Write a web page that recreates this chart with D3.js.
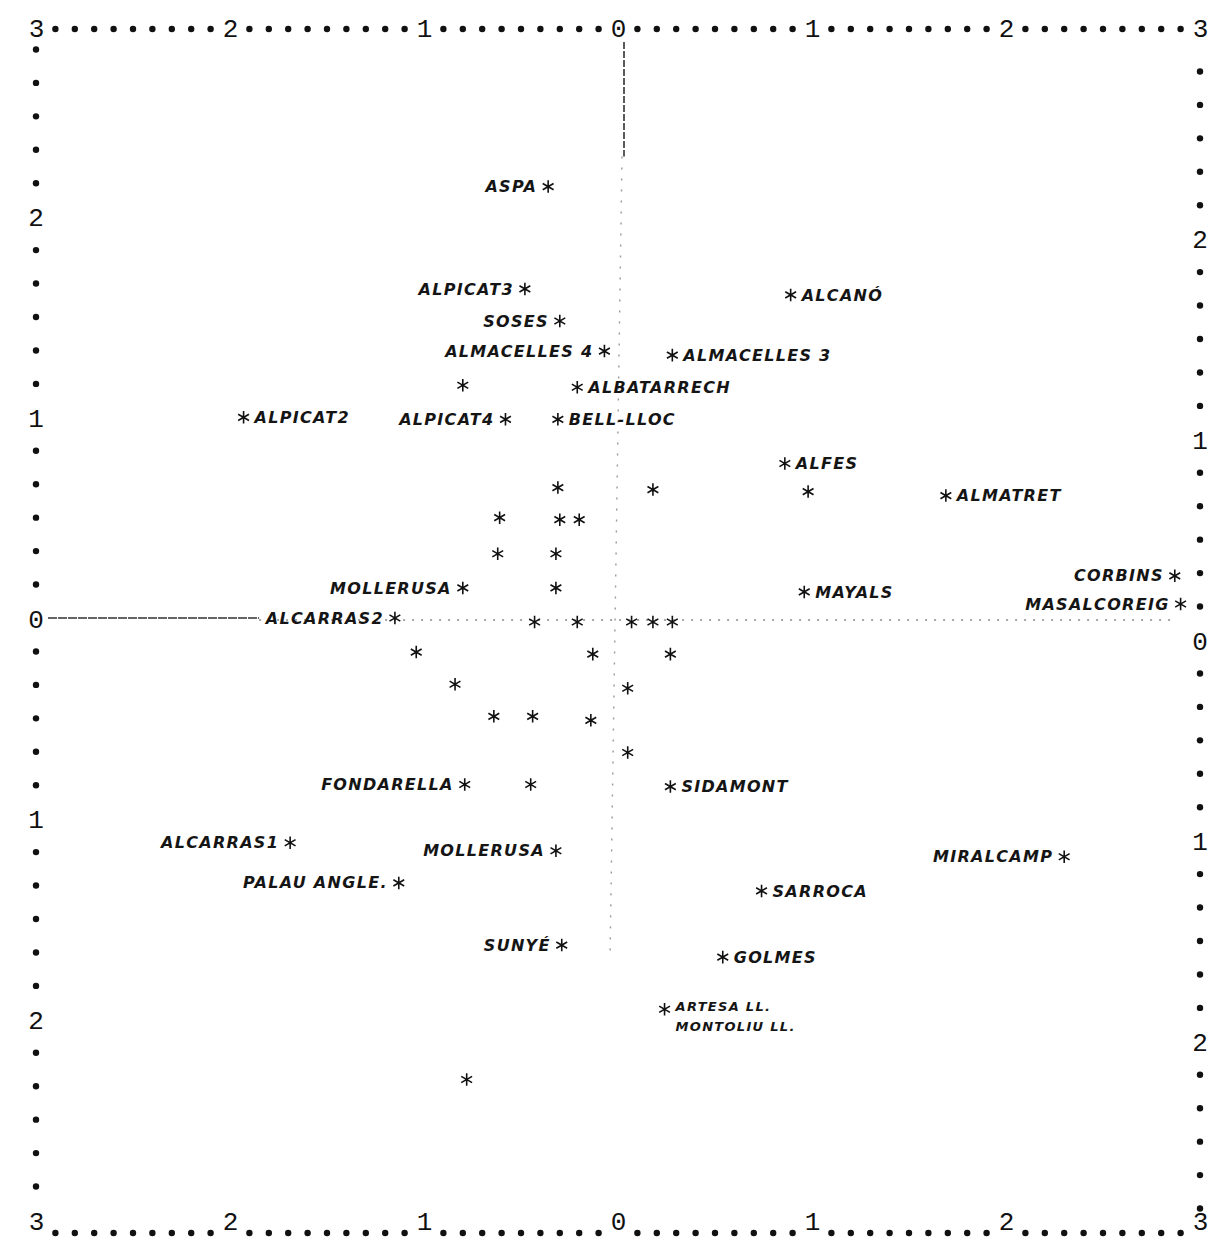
<!DOCTYPE html>
<html>
<head>
<meta charset="utf-8">
<script src="https://cdn.jsdelivr.net/npm/d3@7"></script>
<style>
  html, body { margin: 0; padding: 0; background: #fff; }
  svg { display: block; }
  .num text { font-family: "Liberation Mono", "DejaVu Sans Mono", monospace; font-size: 26px; fill: #111; }
  .lab { font-family: "DejaVu Sans", sans-serif; font-size: 16px; font-weight: bold; font-style: italic; fill: #151515; letter-spacing: 1.3px; }
  .lab.small { font-size: 13px; }
</style>
</head>
<body>
<svg id="chart" width="1223" height="1243"></svg>
<script>
// Factor-plane coordinates of the municipalities (axis 1 horizontal, axis 2 vertical)
const names = [
  "ASPA", "ALPICAT3", "SOSES", "ALMACELLES 4", "ALMACELLES 3", "ALBATARRECH",
  "ALPICAT2", "ALPICAT4", "BELL-LLOC", "ALCANÓ", "ALFES", "ALMATRET",
  "MOLLERUSA", "ALCARRAS2", "MAYALS", "CORBINS", "MASALCOREIG",
  "FONDARELLA", "SIDAMONT", "ALCARRAS1", "MOLLERUSA", "PALAU ANGLE.",
  "MIRALCAMP", "SARROCA", "SUNYÉ", "GOLMES", "ARTESA LL.", "MONTOLIU LL."
];
const xs = [
  -0.36, -0.48, -0.30, -0.07, 0.28, -0.21,
  -1.93, -0.58, -0.31, 0.89, 0.86, 1.69,
  -0.80, -1.15, 0.96, 2.87, 2.90,
  -0.79, 0.27, -1.69, -0.32, -1.13,
  2.30, 0.74, -0.29, 0.54, 0.24, 0.24
];
const ys = [
  2.15, 1.64, 1.48, 1.33, 1.31, 1.15,
  1.00, 0.99, 0.99, 1.61, 0.77, 0.61,
  0.15, 0.00, 0.13, 0.21, 0.07,
  -0.83, -0.84, -1.12, -1.16, -1.32,
  -1.19, -1.36, -1.63, -1.69, -1.95, -1.95
];
// Observations plotted without a name
const xsUnnamed = [
  -0.80, 0.98, -0.31, 0.18, -0.61, -0.30, -0.20, -0.62, -0.32, -0.32,
  -0.43, -0.21, 0.07, 0.18, 0.28, -1.04, -0.13, 0.27, -0.84, 0.05,
  -0.64, -0.44, -0.14, 0.05, -0.45, -0.78
];
const ysUnnamed = [
  1.16, 0.63, 0.65, 0.64, 0.50, 0.49, 0.49, 0.32, 0.32, 0.15,
  -0.02, -0.02, -0.02, -0.02, -0.02, -0.17, -0.18, -0.18, -0.33, -0.35,
  -0.49, -0.49, -0.51, -0.67, -0.83, -2.30
];
const tickValues = [-3, -2, -1, 0, 1, 2, 3];
const tickLabels = ["3", "2", "1", "0", "1", "2", "3"];

// which side of the marker each name is written on
const leftLabelled = new Set([0, 1, 2, 3, 7, 12, 13, 15, 16, 17, 19, 20, 21, 22, 24]);

const svg = d3.select("#chart");
const x = d3.scaleLinear().domain([-3, 3]).range([36, 1200]);
const y = d3.scaleLinear().domain([-3, 3]).range([1220, 16]);
const ink = "#111";

// ---- printer frame: numbered rows/columns with dot fill ----
const fmt = (d) => tickLabels[tickValues.indexOf(d)];
const topY = y(3) + 4, botY = y(-3) + 4, leftX = x(-3), rightX = x(3);
const rightShift = 22; // right-hand column labels sit one print line lower

svg.append("g").attr("class", "num").attr("transform", `translate(0,${topY + 9})`)
  .call(d3.axisTop(x).tickValues(tickValues).tickSize(0).tickPadding(0).tickFormat(fmt))
  .call(g => g.select(".domain").remove())
  .selectAll("text").attr("dy", "0.32em").attr("text-anchor", "middle");
svg.append("g").attr("class", "num").attr("transform", `translate(0,${botY + 9})`)
  .call(d3.axisBottom(x).tickValues(tickValues).tickSize(0).tickPadding(0).tickFormat(fmt))
  .call(g => g.select(".domain").remove())
  .selectAll("text").attr("dy", "-0.1em");
svg.append("g").attr("class", "num").attr("transform", `translate(${leftX},0)`)
  .call(d3.axisLeft(y).tickValues([-2, -1, 0, 1, 2]).tickSize(0).tickPadding(0).tickFormat(fmt))
  .call(g => g.select(".domain").remove())
  .selectAll("text").attr("text-anchor", "middle").attr("dy", "0.35em");
svg.append("g").attr("class", "num").attr("transform", `translate(${rightX},${rightShift})`)
  .call(d3.axisRight(y).tickValues([-2, -1, 0, 1, 2]).tickSize(0).tickPadding(0).tickFormat(fmt))
  .call(g => g.select(".domain").remove())
  .selectAll("text").attr("text-anchor", "middle").attr("dy", "0.35em");

// horizontal fill dots every tenth of a unit
const hDots = d3.range(-30, 31).filter(i => i % 10 !== 0).map(i => i / 10);
// vertical fill dots every sixth of a unit
const vDots = d3.range(-18, 19).filter(i => i % 6 !== 0).map(i => i / 6);
const dots = svg.append("g").attr("fill", ink);
dots.selectAll(".dt").data(hDots).join("circle").attr("cx", d => x(d)).attr("cy", topY + 9).attr("r", 3.2);
dots.selectAll(".db").data(hDots).join("circle").attr("cx", d => x(d)).attr("cy", botY + 9).attr("r", 3.2);
dots.selectAll(".dl").data(vDots).join("circle").attr("cx", leftX).attr("cy", d => y(d)).attr("r", 3.2);
dots.selectAll(".dr").data(vDots.filter(d => d > -2.9)).join("circle").attr("cx", rightX).attr("cy", d => y(d) + rightShift).attr("r", 3.2);

// ---- zero axes printed through the plane ----
const zero = svg.append("g").attr("fill", "none");
zero.append("line").attr("x1", x(-3) + 12).attr("x2", x(-1.85)).attr("y1", y(0)).attr("y2", y(0))
  .attr("stroke", "#333").attr("stroke-width", 1.6).attr("stroke-dasharray", "9,1");
zero.append("line").attr("x1", x(-1.85)).attr("x2", x(2.85)).attr("y1", y(0) + 2).attr("y2", y(0) + 2)
  .attr("stroke", "#888").attr("stroke-width", 1.4).attr("stroke-dasharray", "2,7");
zero.append("line").attr("x1", x(0) + 6).attr("x2", x(0) + 6).attr("y1", topY + 22).attr("y2", y(2.3))
  .attr("stroke", "#333").attr("stroke-width", 1.6).attr("stroke-dasharray", "7,2");
zero.append("line").attr("x1", x(0) + 4).attr("x2", x(0) - 8).attr("y1", y(2.3)).attr("y2", y(-1.7))
  .attr("stroke", "#999").attr("stroke-width", 1.4).attr("stroke-dasharray", "2,9");

// ---- markers ----
const star = d3.symbol().type(d3.symbolAsterisk).size(110);
const marks = svg.append("g").attr("stroke", ink).attr("stroke-width", 1.6).attr("fill", "none");
marks.selectAll(".u").data(d3.range(xsUnnamed.length)).join("path")
  .attr("d", star).attr("transform", i => `translate(${x(xsUnnamed[i])},${y(ysUnnamed[i])})`);
marks.selectAll(".n").data(d3.range(names.length).filter(i => names[i] !== "MONTOLIU LL.")).join("path")
  .attr("d", star).attr("transform", i => `translate(${x(xs[i])},${y(ys[i])})`);

// ---- names ----
svg.append("g").selectAll("text").data(d3.range(names.length)).join("text")
  .attr("class", i => names[i].endsWith("LL.") ? "lab small" : "lab")
  .attr("x", i => x(xs[i]) + (leftLabelled.has(i) ? -11 : 11))
  .attr("y", i => y(ys[i]) + (names[i] === "MONTOLIU LL." ? 17 : 0) + (names[i] === "ARTESA LL." ? -3 : 0))
  .attr("dy", "0.35em")
  .attr("text-anchor", i => leftLabelled.has(i) ? "end" : "start")
  .text(i => names[i]);
</script>
</body>
</html>
